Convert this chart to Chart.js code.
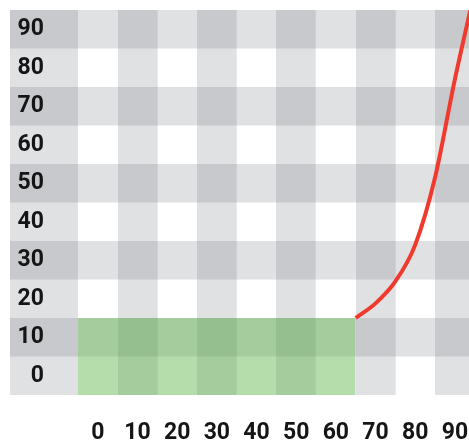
<!DOCTYPE html>
<html>
<head>
<meta charset="utf-8">
<script src="https://cdn.jsdelivr.net/npm/chart.js@4.4.1/dist/chart.umd.min.js"></script>
<style>
    html, body { margin: 0; padding: 0; background: #fff; }
    #chart { display: block; }
</style>
</head>
<body>
<canvas id="chart" width="469" height="441"></canvas>
<script>
// tick values shared by both axes
const tickValues = [0, 10, 20, 30, 40, 50, 60, 70, 80, 90];

// green block: flat line filled down to the bottom of the y scale
const blockX = [-5, 65];
const blockY = [15, 15];

// red curve
const curveX = [65, 70, 75, 80, 85, 90, 95];
const curveY = [15, 18.8, 24.5, 34, 51.5, 77, 100];

const bandColor = 'rgba(100, 105, 115, 0.2)';

function bandByIndex(ctx) {
    return ctx.index % 2 === 1 ? bandColor : 'rgba(0,0,0,0)';
}

function setTicks(scale) {
    scale.ticks = tickValues.map(v => ({ value: v }));
}

const labelFont = { family: 'Roboto', size: 23, weight: 'bold' };

const ctx = document.getElementById('chart').getContext('2d');
new Chart(ctx, {
    type: 'line',
    data: {
        datasets: [
            {
                data: blockX.map((x, i) => ({ x: x, y: blockY[i] })),
                borderWidth: 0,
                borderColor: 'rgba(0,0,0,0)',
                backgroundColor: 'rgba(90, 180, 70, 0.45)',
                pointRadius: 0,
                fill: 'start'
            },
            {
                data: curveX.map((x, i) => ({ x: x, y: curveY[i] })),
                borderColor: '#f03a2e',
                borderWidth: 4,
                pointRadius: 0,
                fill: false,
                cubicInterpolationMode: 'monotone'
            }
        ]
    },
    options: {
        responsive: false,
        animation: false,
        layout: {
            padding: { top: 10, left: 10, right: 0, bottom: 0 }
        },
        plugins: {
            legend: { display: false },
            tooltip: { enabled: false }
        },
        scales: {
            x: {
                type: 'linear',
                min: -5,
                max: 93.56,
                afterBuildTicks: setTicks,
                afterFit: function(scale) {
                    scale.height = 46;
                    scale.paddingLeft = 0;
                    scale.paddingRight = 0;
                },
                border: { display: false },
                grid: {
                    color: bandByIndex,
                    lineWidth: 39.7,
                    drawTicks: false
                },
                ticks: {
                    padding: 24,
                    maxRotation: 0,
                    color: '#151515',
                    font: labelFont
                }
            },
            y: {
                type: 'linear',
                min: -5,
                max: 95,
                backgroundColor: bandColor,
                afterBuildTicks: setTicks,
                afterFit: function(scale) {
                    scale.width = 68;
                    scale.paddingTop = 0;
                    scale.paddingBottom = 0;
                },
                border: { display: false },
                grid: {
                    color: bandByIndex,
                    lineWidth: 38.5,
                    tickLength: 68
                },
                ticks: {
                    padding: -34,
                    color: '#151515',
                    font: labelFont
                }
            }
        }
    }
});
</script>
</body>
</html>
